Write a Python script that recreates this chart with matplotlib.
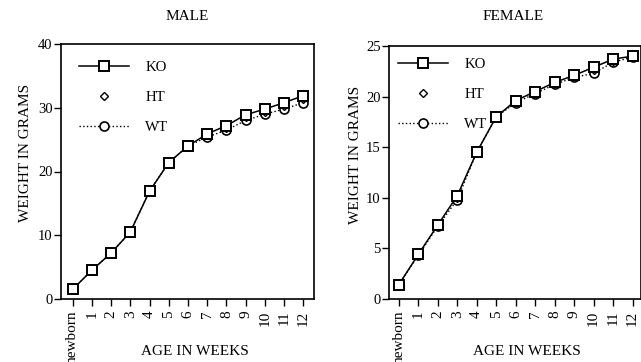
import matplotlib
matplotlib.use("Agg")
import matplotlib.pyplot as plt
from matplotlib.lines import Line2D

plt.rcParams['font.family'] = ['Liberation Serif', 'DejaVu Serif']

weeks = list(range(13))
week_labels = ['newborn', '1', '2', '3', '4', '5', '6', '7', '8', '9', '10', '11', '12']

male_ko = [1.5, 4.5, 7.2, 10.5, 16.9, 21.4, 24.0, 25.9, 27.2, 28.9, 29.8, 30.8, 31.9]
male_ht = [1.5, 4.5, 7.2, 10.5, 16.9, 21.4, 24.0, 25.7, 26.9, 28.5, 29.4, 30.3, 31.3]
male_wt = [1.5, 4.5, 7.2, 10.5, 16.9, 21.4, 24.0, 25.4, 26.5, 28.0, 29.0, 29.8, 30.8]

female_ko = [1.4, 4.4, 7.3, 10.2, 14.5, 18.0, 19.6, 20.5, 21.4, 22.1, 22.9, 23.7, 24.0]
female_ht = [1.4, 4.4, 7.3, 10.0, 14.7, 18.2, 19.5, 20.5, 21.5, 22.0, 22.6, 23.5, 24.0]
female_wt = [1.4, 4.3, 7.2, 9.8, 14.5, 18.0, 19.4, 20.3, 21.2, 21.9, 22.3, 23.4, 23.9]

W, H = 641, 362
fig = plt.figure(figsize=(W/100, H/100), dpi=100)

def px_axes(l, r, t, b):
    return fig.add_axes([l/W, 1-b/H, (r-l)/W, (b-t)/H])

axL = px_axes(61, 314, 44, 299)
axR = px_axes(389, 641, 46, 299)

def draw(ax, ko, ht, wt, ymax, yticks, xlim, title, title_x,
         ylab_xy, xlab_xy, leg_xy):
    ax.plot(weeks, wt, linestyle=':', color='black', lw=1.0, marker='o', ms=6.5,
            mfc='white', mec='black', mew=1.2, zorder=2, clip_on=False)
    ax.plot(weeks, ht, linestyle='none', color='black', marker='D', ms=4,
            mfc='white', mec='black', mew=1.0, zorder=3, clip_on=False)
    ax.plot(weeks, ko, linestyle='-', color='black', lw=1.1, marker='s', ms=6.8,
            mfc='white', mec='black', mew=1.4, zorder=4, clip_on=False)
    ax.set_ylim(0, ymax)
    ax.set_xlim(*xlim)
    ax.set_yticks(yticks)
    ax.set_xticks(weeks)
    ax.set_xticklabels(week_labels, rotation=90, fontsize=11)
    ax.tick_params(axis='y', direction='out', length=5, width=1, labelsize=10.5, pad=1)
    ax.tick_params(axis='x', direction='out', length=5, width=1, labelsize=11, pad=3.5)
    for s in ax.spines.values():
        s.set_linewidth(1.2)
    ax.set_ylabel('WEIGHT IN GRAMS', fontsize=11)
    ax.yaxis.set_label_coords(*ylab_xy)
    ax.set_xlabel('AGE IN WEEKS', fontsize=11)
    ax.xaxis.set_label_coords(*xlab_xy)
    handles = [
        Line2D([], [], linestyle='-', color='black', lw=1.1, marker='s', ms=6.8,
               mfc='white', mec='black', mew=1.4),
        Line2D([], [], linestyle='none', color='black', marker='D', ms=4,
               mfc='white', mec='black', mew=1.0),
        Line2D([], [], linestyle=':', color='black', lw=1.0, marker='o', ms=6.5,
               mfc='white', mec='black', mew=1.2),
    ]
    ax.legend(handles, ['KO', 'HT', 'WT'], loc='upper left', frameon=False,
              bbox_to_anchor=leg_xy, borderpad=0, borderaxespad=0,
              handlelength=3.36, fontsize=10.7, labelspacing=1.1,
              handletextpad=1.1)
    fig.text(title_x/W, 1-17/H, title, ha='center', va='center', fontsize=11)

draw(axL, male_ko, male_ht, male_wt, 40, [0, 10, 20, 30, 40], (-0.6, 12.55), 'MALE', 187,
     (-0.115, 0.573), (0.53, -0.18), (0.071, 0.934))
draw(axR, female_ko, female_ht, female_wt, 25, [0, 5, 10, 15, 20, 25], (-0.5, 12.43), 'FEMALE', 513,
     (-0.107, 0.569), (0.548, -0.18), (0.036, 0.953))

fig.savefig('out.png', dpi=100)
